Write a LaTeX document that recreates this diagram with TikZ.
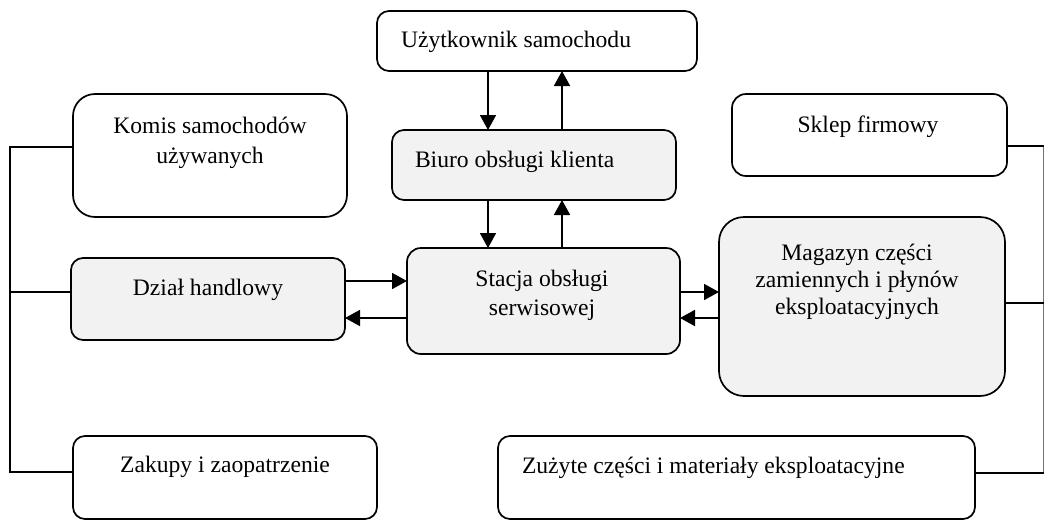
\documentclass[tikz,border=0pt]{standalone}
\usepackage{fontspec}
\setmainfont{Liberation Serif}
\usetikzlibrary{arrows.meta}
\definecolor{boxgray}{HTML}{F2F2F2}
\tikzset{
  box/.style={draw=black, line width=1.7pt, fill=white, rounded corners=12pt, inner sep=0pt, outer sep=0pt},
  graybox/.style={box, fill=boxgray},
  lbl/.style={inner sep=0pt, outer sep=0pt, font=\fontsize{23.6}{29}\selectfont, anchor=base},
  arr/.style={line width=1.8pt, -{Triangle[length=15pt,width=16pt]}},
  bus/.style={line width=1.4pt, black},
  thinbus/.style={line width=1pt, black!55}
}
\begin{document}
\begin{tikzpicture}[x=1pt,y=-1pt]
\useasboundingbox (0,0) rectangle (1045,520);
% boxes
\node[box, minimum width=320pt, minimum height=60pt] (uzyt) at (537,41) {};
\node[graybox, minimum width=284pt, minimum height=70pt] (biuro) at (534,165) {};
\node[graybox, minimum width=273pt, minimum height=106pt, rounded corners=14pt] (stacja) at (543.5,301) {};
\node[box, minimum width=274pt, minimum height=123pt, rounded corners=22pt] (komis) at (210,155.5) {};
\node[graybox, minimum width=274pt, minimum height=82pt] (dzial) at (208,299) {};
\node[box, minimum width=304pt, minimum height=83pt] (zakupy) at (225,477.5) {};
\node[box, minimum width=275pt, minimum height=82pt, rounded corners=14pt] (sklep) at (869.5,135) {};
\node[graybox, minimum width=286pt, minimum height=179pt, rounded corners=25pt] (magazyn) at (862,306.5) {};
\node[box, minimum width=477pt, minimum height=83pt] (zuzyte) at (736.5,477.5) {};
% texts
\node[lbl, anchor=base west] (tuzyt) at (401,47) {Użytkownik samochodu};
\node[lbl, anchor=base west] (tbiuro) at (415,167) {Biuro obsługi klienta};
\node[lbl] (tstacja1) at (542,286) {Stacja obsługi};
\node[lbl] (tstacja2) at (542,315) {serwisowej};
\node[lbl] (tkomis1) at (210,133) {Komis samochodów};
\node[lbl] (tkomis2) at (210,163) {używanych};
\node[lbl] (tdzial) at (208,295) {Dział handlowy};
\node[lbl] (tzakupy) at (225,472) {Zakupy i zaopatrzenie};
\node[lbl] (tsklep) at (868,132) {Sklep firmowy};
\node[lbl] (tmag1) at (857,260) {Magazyn części};
\node[lbl] (tmag2) at (857,287) {zamiennych i płynów};
\node[lbl] (tmag3) at (857,314) {eksploatacyjnych};
\node[lbl, anchor=base west] (tzuzyte) at (522,473) {Zużyte części i materiały eksploatacyjne};
% vertical arrows
\draw[arr] (488,0 |- uzyt.south) -- (488,0 |- biuro.north);
\draw[arr] (562,0 |- biuro.north) -- (562,0 |- uzyt.south);
\draw[arr] (488,0 |- biuro.south) -- (488,0 |- stacja.north);
\draw[arr] (562,0 |- stacja.north) -- (562,0 |- biuro.south);
% horizontal arrows
\draw[arr] (dzial.east |- 0,281) -- (stacja.west |- 0,281);
\draw[arr] (stacja.west |- 0,318) -- (dzial.east |- 0,318);
\draw[arr] (stacja.east |- 0,292) -- (magazyn.west |- 0,292);
\draw[arr] (magazyn.west |- 0,318) -- (stacja.east |- 0,318);
% left bus
\draw[bus] (komis.west |- 0,147) -- (10,147) -- (10,472) -- (zakupy.west |- 0,472);
\draw[bus] (dzial.west |- 0,292) -- (10,292);
% right bus
\coordinate (rtop) at (1043.5,146);
\coordinate (rbot) at (1043.5,473);
\draw[thinbus] (rtop) -- (rbot);
\draw[bus] (sklep.east |- rtop) -- (rtop);
\draw[bus] (magazyn.east |- 0,303) -- (1043.5,303);
\draw[bus] (zuzyte.east |- rbot) -- (rbot);
\end{tikzpicture}
\end{document}
